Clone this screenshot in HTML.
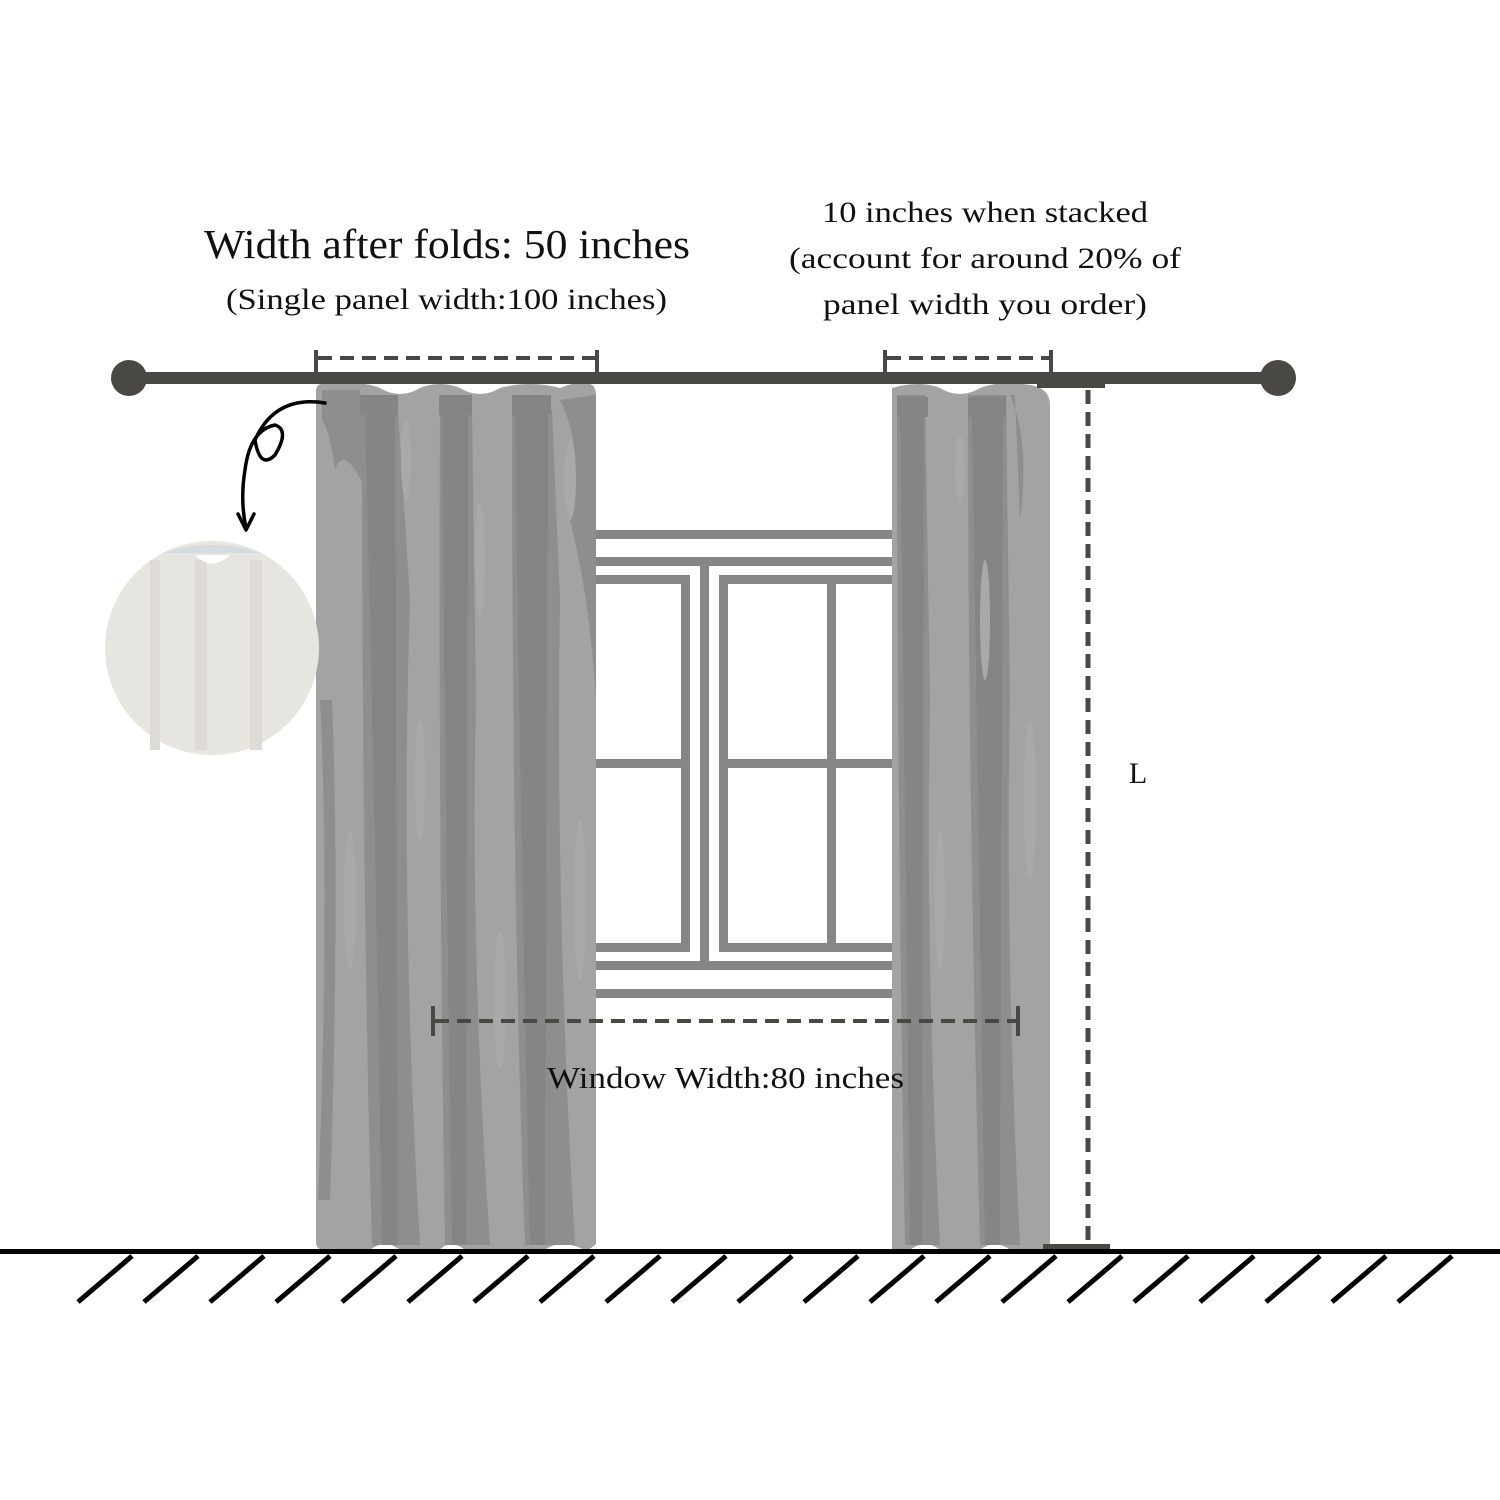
<!DOCTYPE html>
<html><head><meta charset="utf-8"><style>
html,body{margin:0;padding:0;background:#fff}
svg{display:block}
text{font-family:"Liberation Serif",serif;fill:#111}
</style></head><body>
<svg width="1500" height="1500" viewBox="0 0 1500 1500" xmlns="http://www.w3.org/2000/svg">
<rect width="1500" height="1500" fill="#fff"/>
<g fill="#868686">
<rect x="596" y="530" width="296" height="9"/>
<rect x="596" y="557" width="296" height="9"/>
<rect x="596" y="961" width="296" height="9"/>
<rect x="596" y="989" width="296" height="9"/>
<rect x="700" y="566" width="9" height="395"/>
<rect x="596" y="575" width="94" height="9"/>
<rect x="596" y="943" width="94" height="9"/>
<rect x="681" y="575" width="9" height="377"/>
<rect x="596" y="759" width="94" height="9"/>
<rect x="719" y="575" width="173" height="9"/>
<rect x="719" y="943" width="173" height="9"/>
<rect x="719" y="575" width="9" height="377"/>
<rect x="827" y="575" width="9" height="377"/>
<rect x="719" y="759" width="173" height="9"/>
</g>
<path d="M322 384 Q360 380 380 388 Q400 400 420 388 Q440 380 460 388 Q480 400 500 388 Q530 380 560 388 Q580 380 590 384 Q596 386 596 395 L596 1244 Q590 1250 585 1250 Q560 1238 545 1250 L465 1250 Q450 1238 440 1250 L400 1250 Q385 1238 370 1250 L322 1250 Q316 1248 316 1242 L316 392 Q316 384 322 384Z" fill="#a3a3a3"/>
<g fill="#8e8e8e">
<path d="M322 390 L360 390 L370 500 Q345 440 335 470 Q330 430 322 420Z"/>
<path d="M362 410 L398 410 L410 600 Q400 900 420 1245 L372 1245 Q362 900 362 410Z"/>
<path d="M440 410 L472 410 L476 700 Q470 950 490 1245 L445 1245 Q438 800 440 410Z"/>
<path d="M512 410 L552 410 L560 600 Q555 900 575 1245 L525 1245 Q512 900 512 410Z"/>
<path d="M320 700 Q330 900 318 1200 L330 1200 Q340 900 332 700Z"/>
<path d="M560 400 Q585 450 570 520 Q590 600 596 700 L596 395Z"/>
</g>
<g fill="#858585">
<rect x="360" y="395" width="38" height="20"/>
<rect x="439" y="395" width="33" height="20"/>
<rect x="512" y="395" width="39" height="20"/>
<path d="M365 415 L395 415 L398 1245 L382 1245 Q375 800 365 415Z"/>
<path d="M442 415 L468 415 L466 1245 L452 1245 Q445 800 442 415Z"/>
<path d="M515 415 L548 415 L545 1245 L530 1245 Q520 800 515 415Z"/>
</g>
<g fill="#a9a9a9">
<ellipse cx="406" cy="460" rx="5" ry="40"/><ellipse cx="480" cy="560" rx="5" ry="60"/>
<ellipse cx="570" cy="480" rx="6" ry="40"/><ellipse cx="350" cy="900" rx="6" ry="70"/>
<ellipse cx="420" cy="780" rx="5" ry="60"/><ellipse cx="500" cy="1000" rx="6" ry="70"/>
<ellipse cx="580" cy="900" rx="6" ry="80"/>
</g>
<path d="M892 388 Q920 380 940 388 Q960 400 980 388 Q1000 380 1030 385 Q1050 388 1050 405 L1050 1244 Q1045 1250 1040 1250 L1010 1250 Q995 1238 980 1250 L940 1250 Q925 1238 910 1250 L892 1250Z" fill="#a3a3a3"/>
<g fill="#8e8e8e">
<path d="M897 395 L925 395 L930 700 Q925 950 940 1245 L905 1245 Q897 800 897 395Z"/>
<path d="M968 395 L1006 395 L1010 700 Q1005 950 1020 1245 L980 1245 Q968 800 968 395Z"/>
<path d="M1010 395 Q1030 440 1020 520 L1015 395Z"/>
</g>
<g fill="#858585">
<rect x="897" y="397" width="31" height="20"/>
<rect x="968" y="397" width="38" height="20"/>
<path d="M900 417 L924 417 L922 1245 L910 1245 Q905 800 900 417Z"/>
<path d="M972 417 L1003 417 L1000 1245 L985 1245 Q978 800 972 417Z"/>
</g>
<g fill="#a9a9a9">
<ellipse cx="960" cy="470" rx="5" ry="35"/><ellipse cx="985" cy="620" rx="5" ry="60"/>
<ellipse cx="940" cy="900" rx="5" ry="70"/><ellipse cx="1030" cy="800" rx="6" ry="80"/>
</g>
<rect x="128" y="372" width="1150" height="12" fill="#4a4845"/>
<circle cx="129" cy="378" r="18" fill="#4a4845"/>
<circle cx="1278" cy="378" r="18" fill="#4a4845"/>
<g stroke="#4a4845" stroke-width="4" fill="none">
<line x1="316" y1="350" x2="316" y2="380"/><line x1="597" y1="350" x2="597" y2="380"/>
<line x1="318" y1="358" x2="595" y2="358" stroke-dasharray="14 8"/>
<line x1="885" y1="350" x2="885" y2="380"/><line x1="1051" y1="350" x2="1051" y2="380"/>
<line x1="887" y1="358" x2="1049" y2="358" stroke-dasharray="14 8"/>
</g>
<rect x="1037" y="382" width="68" height="6" fill="#4a4845"/>
<rect x="1043" y="1244" width="67" height="6" fill="#4a4845"/>
<line x1="1088" y1="390" x2="1088" y2="1244" stroke="#4a4845" stroke-width="5" stroke-dasharray="14 8"/>
<text x="1138" y="783" font-size="30" text-anchor="middle">L</text>
<g stroke="#4a4845" stroke-width="4">
<line x1="433" y1="1006" x2="433" y2="1036"/><line x1="1018" y1="1006" x2="1018" y2="1036"/>
<line x1="435" y1="1021" x2="1016" y2="1021" stroke-dasharray="14 8"/>
</g>
<text x="547" y="1088" font-size="31" textLength="357" lengthAdjust="spacingAndGlyphs">Window Width:80 inches</text>
<circle cx="212" cy="648" r="107" fill="#e7e5e0"/>
<g fill="#dedbd6"><rect x="150" y="560" width="10" height="190"/><rect x="195" y="560" width="12" height="190"/><rect x="250" y="560" width="12" height="190"/></g>
<path d="M162 553 Q210 537 262 553Z" fill="#d5dcdf"/>
<path d="M195 555 Q212 572 230 555Z" fill="#fff"/>
<path d="M325 403 Q275 395 255 440 Q260 470 275 455 Q290 430 275 425 Q250 430 245 470 Q240 500 246 528" fill="none" stroke="#000" stroke-width="3.5" stroke-linecap="round"/>
<path d="M238 514 L246 530 L254 514" fill="none" stroke="#000" stroke-width="3.5" stroke-linecap="round" stroke-linejoin="round"/>
<rect x="0" y="1249" width="1500" height="5" fill="#000"/>
<g stroke="#000" stroke-width="5">
<line x1="78" y1="1302" x2="132" y2="1256"/><line x1="144" y1="1302" x2="198" y2="1256"/>
<line x1="210" y1="1302" x2="264" y2="1256"/><line x1="276" y1="1302" x2="330" y2="1256"/>
<line x1="342" y1="1302" x2="396" y2="1256"/><line x1="408" y1="1302" x2="462" y2="1256"/>
<line x1="474" y1="1302" x2="528" y2="1256"/><line x1="540" y1="1302" x2="594" y2="1256"/>
<line x1="606" y1="1302" x2="660" y2="1256"/><line x1="672" y1="1302" x2="726" y2="1256"/>
<line x1="738" y1="1302" x2="792" y2="1256"/><line x1="804" y1="1302" x2="858" y2="1256"/>
<line x1="870" y1="1302" x2="924" y2="1256"/><line x1="936" y1="1302" x2="990" y2="1256"/>
<line x1="1002" y1="1302" x2="1056" y2="1256"/><line x1="1068" y1="1302" x2="1122" y2="1256"/>
<line x1="1134" y1="1302" x2="1188" y2="1256"/><line x1="1200" y1="1302" x2="1254" y2="1256"/>
<line x1="1266" y1="1302" x2="1320" y2="1256"/><line x1="1332" y1="1302" x2="1386" y2="1256"/>
<line x1="1398" y1="1302" x2="1452" y2="1256"/>
</g>
<text x="204" y="258" font-size="41" textLength="486" lengthAdjust="spacingAndGlyphs">Width after folds: 50 inches</text>
<text x="226" y="309" font-size="30" textLength="441" lengthAdjust="spacingAndGlyphs">(Single panel width:100 inches)</text>
<text x="822" y="222" font-size="30" textLength="326" lengthAdjust="spacingAndGlyphs">10 inches when stacked</text>
<text x="789" y="268" font-size="30" textLength="392" lengthAdjust="spacingAndGlyphs">(account for around 20% of</text>
<text x="823" y="314" font-size="30" textLength="324" lengthAdjust="spacingAndGlyphs">panel width you order)</text>
</svg>
</body></html>
